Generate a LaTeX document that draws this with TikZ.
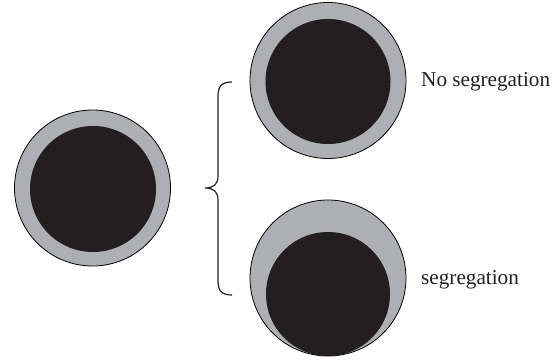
\documentclass[tikz,border=0pt]{standalone}
\usepackage{fontspec}
\setmainfont{Liberation Serif}
\definecolor{ringgray}{HTML}{AEAFB2}
\definecolor{coreblack}{HTML}{231F20}
\begin{document}
\begin{tikzpicture}[x=1pt,y=-1pt,
  shell/.style={circle,draw=black,line width=0.8pt,fill=ringgray,inner sep=0pt},
  core/.style={circle,fill=coreblack,inner sep=0pt},
  lbl/.style={inner sep=0pt,anchor=base west,font=\fontsize{21.2}{25}\selectfont,text=coreblack},
  brace/.style={draw=coreblack,line width=1.2pt}]
\useasboundingbox (0,0) rectangle (560,362);
% left particle
\node[shell,minimum size=156pt] (L) at (92.5,188) {};
\node[core,minimum size=126pt] (Lc) at (93,189) {};
% top right particle
\node[shell,minimum size=156pt] (T) at (328,80.5) {};
\node[core,minimum size=125pt] (Tc) at (328,81.5) {};
% bottom right particle
\node[shell,minimum size=156pt] (B) at (328,278) {};
\node[core,minimum size=124pt] (Bc) at (328,294) {};
% brace
\coordinate (bt) at (232,82);
\coordinate (bm) at (205,188);
\coordinate (bb) at (232,295);
\draw[brace] (bt) .. controls (222,82) and (218,86) .. (218,96)
  -- (218,176) .. controls (218,184) and (214,188) .. (bm)
  .. controls (214,188) and (218,192) .. (218,200)
  -- (218,281) .. controls (218,291) and (222,295) .. (bb);
% labels
\node[lbl] (l1) at (421,86.5) {No segregation};
\node[lbl] (l2) at (421,284) {segregation};
\end{tikzpicture}
\end{document}
